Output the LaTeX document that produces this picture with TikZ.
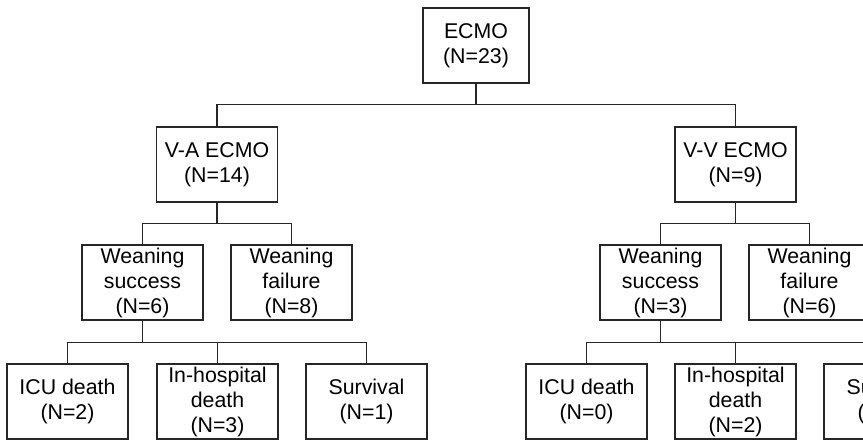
\documentclass[tikz,border=0pt]{standalone}
\usepackage{fontspec}
\setmainfont{Liberation Sans}
\usetikzlibrary{positioning}
\tikzset{
  grp/.style  ={draw=black!85,line width=0.9pt,align=center,inner sep=1pt,
                minimum width=90.75pt,minimum height=56.25pt,
                font=\fontsize{16}{18.75}\selectfont},
  link/.style ={draw=black!85,line width=0.9pt},
}
\begin{document}
\begin{tikzpicture}[x=0.75pt,y=-0.75pt]
  \clip (0,0) rectangle (863,439);
  % levels
  \node[grp,minimum width=79.5pt] (ecmo) at (476,45.5){ECMO\\(N=23)};
  \node[grp] (va) at (217,164.5){V-A ECMO\\(N=14)};
  \node[grp] (vv) at (735.5,164.5){V-V ECMO\\(N=9)};
  \node[grp] (vaS) at (142.5,282.5){Weaning\\success\\(N=6)};
  \node[grp] (vaF) at (291.5,282.5){Weaning\\failure\\(N=8)};
  \node[grp] (vvS) at (660.5,282.5){Weaning\\success\\(N=3)};
  \node[grp] (vvF) at (809.5,282.5){Weaning\\failure\\(N=6)};
  \node[grp] (vaIcu) at (67.5,401.5){ICU death\\(N=2)};
  \node[grp] (vaHos) at (217.5,401.5){In-hospital\\death\\(N=3)};
  \node[grp] (vaSur) at (366.5,401.5){Survival\\(N=1)};
  \node[grp] (vvIcu) at (586.5,401.5){ICU death\\(N=0)};
  \node[grp] (vvHos) at (735.5,401.5){In-hospital\\death\\(N=2)};
  \node[grp] (vvSur) at (884.5,401.5){Survival\\(N=1)};
  % branches
  \draw[link] (ecmo.south) -- ++(0,21) coordinate (b0) -| (va.north);
  \draw[link] (b0) -| (vv.north);
  \draw[link] (va.south) -- ++(0,21) coordinate (b1) -| (vaS.north);
  \draw[link] (b1) -| (vaF.north);
  \draw[link] (vv.south) -- ++(0,21) coordinate (b2) -| (vvS.north);
  \draw[link] (b2) -| (vvF.north);
  \draw[link] (vaS.south) -- ++(0,22) coordinate (b3) -| (vaIcu.north);
  \draw[link] (b3) -| (vaHos.north);
  \draw[link] (b3) -| (vaSur.north);
  \draw[link] (vvS.south) -- ++(0,22) coordinate (b4) -| (vvIcu.north);
  \draw[link] (b4) -| (vvHos.north);
  \draw[link] (b4) -| (vvSur.north);
\end{tikzpicture}
\end{document}
